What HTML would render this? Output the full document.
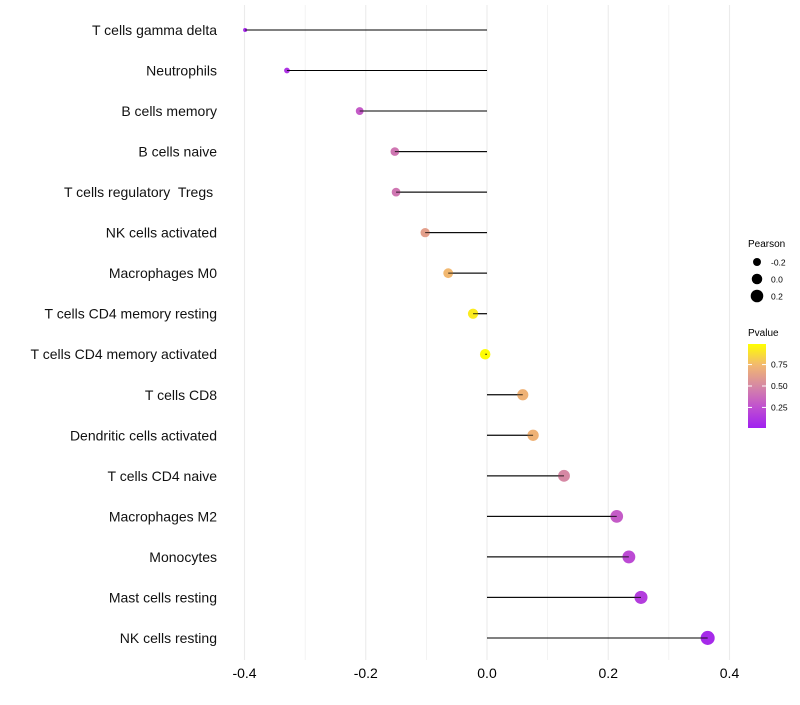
<!DOCTYPE html>
<html><head><meta charset="utf-8"><style>
body{margin:0;background:#fff;font-family:"Liberation Sans",sans-serif}
svg text{font-family:"Liberation Sans",sans-serif;white-space:pre}
</style></head><body>
<svg id="c" width="800" height="700"></svg>
<script>
const cells=["T cells gamma delta","Neutrophils","B cells memory","B cells naive","T cells regulatory  Tregs ","NK cells activated","Macrophages M0","T cells CD4 memory resting","T cells CD4 memory activated","T cells CD8","Dendritic cells activated","T cells CD4 naive","Macrophages M2","Monocytes","Mast cells resting","NK cells resting"];
const pearson=[-0.399,-0.33,-0.21,-0.152,-0.15,-0.102,-0.064,-0.023,-0.003,0.059,0.076,0.127,0.214,0.234,0.254,0.364];
const pvalues=[0.05,0.1,0.3,0.42,0.42,0.62,0.75,0.93,0.99,0.72,0.72,0.5,0.3,0.22,0.15,0.05];
const xTicks=[-0.4,-0.2,0.0,0.2,0.4];
const xTickLabels=["-0.4","-0.2","0.0","0.2","0.4"];
const sizeLegend=[-0.2,0.0,0.2];
const colorTicks=[0.25,0.5,0.75];

const NS="http://www.w3.org/2000/svg";
const svg=document.getElementById('c');
const X=v=>487+v*606.25;
const Y=i=>30+i*40.53;
const R=p=>Math.sqrt(Math.max(1,27.7+59.2*p));
const stops=[[0,[160,32,240]],[0.25,[192,80,208]],[0.5,[214,136,164]],[0.75,[242,184,112]],[1,[255,255,0]]];
function col(v){for(let k=1;k<stops.length;k++){if(v<=stops[k][0]){const a=stops[k-1],b=stops[k],t=(v-a[0])/(b[0]-a[0]);return 'rgb('+a[1].map((c,j)=>Math.round(c+(b[1][j]-c)*t)).join(',')+')';}}return 'rgb(255,255,0)';}
function el(t,a,p){const e=document.createElementNS(NS,t);for(const k in a)e.setAttribute(k,a[k]);(p||svg).appendChild(e);return e;}
const grid=el('g',{});


for(let v=-0.4;v<=0.401;v+=0.1){const l=el('line',{x1:X(v),x2:X(v),y1:5,y2:660,stroke:'#ebebeb','stroke-width':Math.abs(Math.round(v*10))%2==0?1.1:0.6},grid);}
xTicks.forEach((v,i)=>{const t=el('text',{x:X(v),y:678,'text-anchor':'middle','font-size':14,fill:'#000'});t.textContent=xTickLabels[i];

});
cells.forEach((c,i)=>{const y=Y(i);
const t=el('text',{x:217,y:y+5,'text-anchor':'end','font-size':14,fill:'#111'});t.textContent=c;


const l=el('line',{x1:X(0),x2:X(pearson[i]),y1:y,y2:y,stroke:'#000','stroke-width':1});


const d=el('circle',{cx:X(pearson[i]),cy:y,r:R(pearson[i]),fill:col(pvalues[i])});


const l2=el('line',{x1:X(0),x2:X(pearson[i]),y1:y,y2:y,stroke:'#000','stroke-width':1,'stroke-opacity':0.8});

});
const t1=el('text',{x:748,y:247,'font-size':10});t1.textContent='Pearson';


sizeLegend.forEach((p,i)=>{const y=262+i*17;const c=el('circle',{cx:757,cy:y,r:R(p)});


const t=el('text',{x:771,y:y+3.5,'font-size':8.5});t.textContent=p.toFixed(1);

});
const t2=el('text',{x:748,y:336,'font-size':10});t2.textContent='Pvalue';


const defs=el('defs',{});const g=el('linearGradient',{id:'pg',x1:0,y1:1,x2:0,y2:0},defs);
stops.forEach(s=>el('stop',{offset:s[0],'stop-color':'rgb('+s[1].join(',')+')'},g));
const bar=el('rect',{x:748,y:344,width:18,height:84,fill:'url(#pg)'});


const cy=v=>428-(v-0.01)/0.98*84;
colorTicks.forEach(v=>{el('line',{x1:748,x2:752,y1:cy(v),y2:cy(v),stroke:'#fff'});el('line',{x1:762,x2:766,y1:cy(v),y2:cy(v),stroke:'#fff'});
const t=el('text',{x:771,y:cy(v)+3,'font-size':8.5});t.textContent=v.toFixed(2);

});
</script>
</body></html>
